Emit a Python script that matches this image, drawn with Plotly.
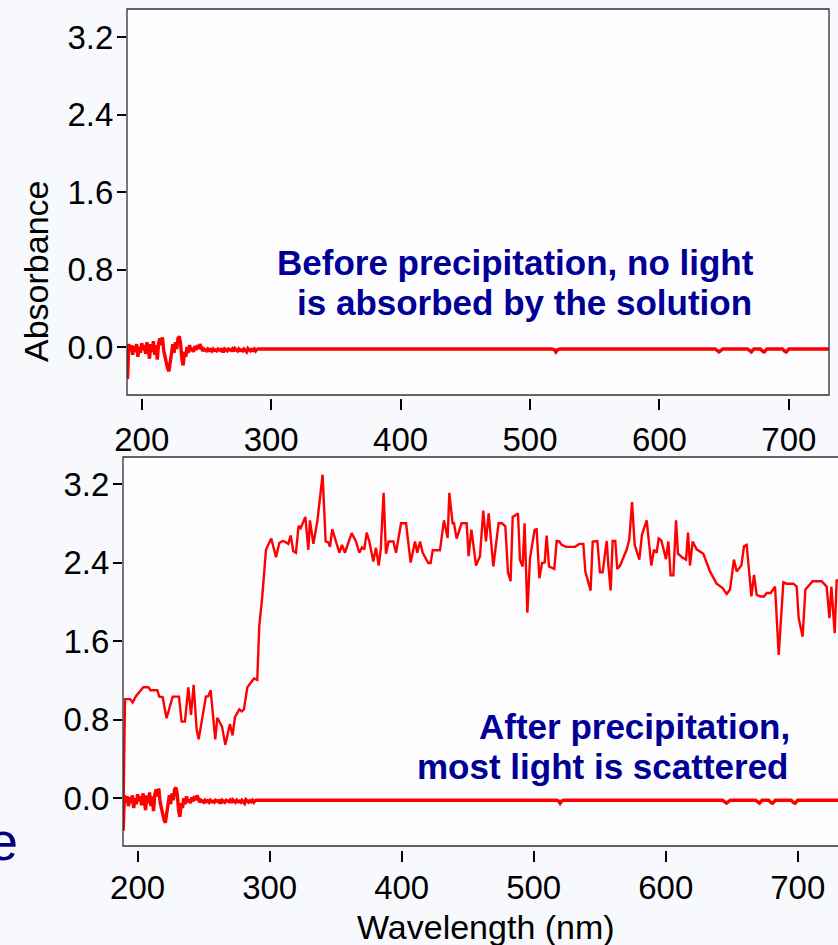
import plotly.graph_objects as go

W, H = 838, 945
FONT = "Liberation Sans, Arial, Helvetica, sans-serif"
NAVY = "#000096"

# ---- "before precipitation" spectrum -------------------------------------
# noisy UV end, sampled every 1 nm from 189 to 290 nm
uv_wl = list(range(189, 291))
uv_before = [
    -0.33, 0.03, -0.04, 0.02, -0.08, 0.01, -0.05, 0.03, -0.10, 0.00,
    -0.06, 0.04, -0.03, 0.02, -0.07, 0.05, -0.02, -0.12, 0.03, -0.05,
    0.06, -0.08, 0.02, -0.13, 0.04, 0.09, 0.02, 0.10, -0.04, -0.10,
    -0.18, -0.22, -0.25, -0.15, -0.04, 0.03, -0.06, 0.05, -0.02, 0.09,
    0.11, 0.04, -0.12, -0.19, -0.05, -0.10, 0.00, -0.06, 0.02, -0.04,
    -0.01, -0.05, 0.01, -0.03, 0.02, -0.02, 0.03, -0.01, -0.04, -0.02,
    -0.03, -0.04, -0.02, -0.035, -0.025, -0.04, -0.02, -0.035, -0.03, -0.04,
    -0.02, -0.03, -0.035, -0.015, -0.055, -0.02, -0.03, -0.04, -0.02, -0.03,
    -0.035, -0.02, -0.045, -0.015, -0.03, -0.04, -0.02, -0.035, -0.03, -0.04,
    -0.02, -0.035, -0.05, -0.015, -0.03, -0.04, -0.025, -0.035, -0.02, -0.04,
    -0.025, -0.02,
]
# flat visible part with a few tiny dips
vis_wl = [300, 517, 519, 520, 521, 523, 643, 645, 646, 647, 649,
          668, 670, 671, 673, 678, 680, 681, 683, 695, 697, 698, 700, 731]
vis_before = [-0.02, -0.02, -0.03, -0.05, -0.03, -0.02, -0.02, -0.04, -0.05, -0.04, -0.02,
              -0.02, -0.045, -0.05, -0.02, -0.02, -0.045, -0.05, -0.02, -0.02, -0.045, -0.05, -0.02, -0.02]

before_wl = uv_wl + vis_wl
before_abs = uv_before + vis_before

# ---- "after precipitation" spectrum (scattering) -------------------------
after_wl = [
    189.1, 190.4, 194.2, 196.2, 198.7, 204.3, 208.1, 209.8, 214.9, 216.4,
    218.9, 221.9, 226.5, 231.3, 233.3, 235.8, 238.4, 240.4, 242.4, 244.7,
    246.2, 248.5, 251.7, 253.5, 255.3, 258.8, 260.3, 263.9, 266.4, 269.9,
    271.9, 273.7, 277.0, 278.8, 280.5, 283.1, 288.1, 290.6, 292.1, 294.4,
    297.2, 301.2, 304.8, 307.3, 309.8, 311.8, 314.1, 315.9, 317.9, 319.9,
    321.9, 323.5, 327.0, 329.3, 330.5, 333.1, 336.1, 340.1, 342.4, 344.4,
    345.7, 347.4, 350.2, 352.8, 354.8, 357.0, 362.1, 365.4, 367.9, 369.9,
    371.7, 373.5, 375.5, 378.5, 380.5, 382.6, 384.1, 386.3, 388.1, 390.1,
    393.7, 395.7, 399.5, 403.3, 406.8, 410.1, 411.8, 413.9, 415.9, 420.2,
    421.9, 423.5, 429.0, 432.0, 434.8, 436.1, 438.6, 439.6, 441.6, 445.4,
    449.2, 450.7, 452.8, 456.3, 459.3, 461.8, 463.8, 465.9, 467.4, 469.4,
    473.4, 476.0, 478.5, 480.5, 482.5, 484.1, 488.1, 489.6, 491.6, 493.1,
    495.2, 497.2, 500.7, 502.2, 504.3, 506.3, 508.3, 509.8, 511.6, 515.6,
    517.4, 519.4, 521.2, 524.5, 531.3, 534.6, 537.6, 539.1, 543.1, 544.7,
    548.2, 550.2, 552.2, 555.3, 556.5, 558.3, 559.8, 561.8, 563.3, 565.4,
    570.4, 572.4, 574.5, 576.5, 580.0, 582.0, 585.6, 589.1, 591.1, 593.1,
    594.7, 596.7, 600.2, 602.0, 603.7, 605.8, 607.8, 609.3, 612.3, 615.4,
    616.9, 618.4, 620.4, 623.4, 628.5, 633.5, 638.6, 643.1, 646.2, 648.7,
    651.7, 653.7, 657.3, 659.3, 661.3, 664.9, 666.9, 668.9, 671.9, 674.5,
    676.5, 679.5, 682.8, 685.6, 689.1, 691.6, 696.7, 699.2, 700.7, 703.7,
    705.8, 711.3, 718.1, 721.9, 724.0, 725.5, 728.0, 729.5, 731.0,
]
after_abs = [
    -0.32, 1.01, 1.01, 0.975, 1.04, 1.13, 1.13, 1.10, 1.10, 1.035,
    1.03, 0.815, 1.035, 1.035, 0.78, 0.78, 1.13, 0.85, 1.155, 0.70,
    0.60, 0.80, 1.035, 1.04, 1.10, 0.60, 0.82, 0.73, 0.545, 0.755,
    0.64, 0.825, 0.905, 0.885, 0.905, 1.13, 1.22, 1.205, 1.75, 2.055,
    2.53, 2.645, 2.455, 2.60, 2.62, 2.61, 2.59, 2.675, 2.515, 2.50,
    2.775, 2.75, 2.865, 2.53, 2.83, 2.59, 2.82, 3.295, 2.615, 2.605,
    2.56, 2.74, 2.62, 2.50, 2.58, 2.50, 2.70, 2.615, 2.50, 2.555,
    2.535, 2.705, 2.615, 2.41, 2.55, 2.37, 2.53, 3.11, 2.49, 2.615,
    2.615, 2.50, 2.80, 2.80, 2.40, 2.615, 2.50, 2.615, 2.50, 2.395,
    2.395, 2.525, 2.525, 2.83, 2.65, 3.11, 2.80, 2.80, 2.645, 2.80,
    2.80, 2.465, 2.735, 2.37, 2.465, 2.93, 2.615, 2.90, 2.665, 2.36,
    2.80, 2.80, 2.77, 2.30, 2.21, 2.865, 2.90, 2.43, 2.36, 2.80,
    1.89, 2.445, 2.735, 2.74, 2.24, 2.395, 2.40, 2.675, 2.36, 2.335,
    2.62, 2.615, 2.58, 2.56, 2.56, 2.59, 2.59, 2.31, 2.115, 2.615,
    2.62, 2.30, 2.30, 2.62, 2.38, 2.115, 2.62, 2.62, 2.335, 2.37,
    2.53, 2.635, 3.015, 2.58, 2.43, 2.685, 2.83, 2.37, 2.53, 2.50,
    2.645, 2.625, 2.435, 2.615, 2.27, 2.27, 2.83, 2.49, 2.455, 2.43,
    2.705, 2.37, 2.615, 2.535, 2.49, 2.31, 2.185, 2.14, 2.08, 2.125,
    2.43, 2.31, 2.37, 2.565, 2.58, 2.055, 2.275, 2.07, 2.055, 2.055,
    2.09, 2.09, 2.155, 1.46, 2.20, 2.185, 2.185, 2.155, 1.835, 1.645,
    2.125, 2.21, 2.21, 2.155, 1.835, 2.155, 1.68, 2.225, 2.21,
]

x_ticks = [200, 300, 400, 500, 600, 700]
y_ticks = [0.0, 0.8, 1.6, 2.4, 3.2]
y_ticktext = ["0.0", "0.8", "1.6", "2.4", "3.2"]


def fx(p):
    return p / W


def fy(p):
    return 1 - p / H


fig = go.Figure()
red = "#FF0000"
fig.add_trace(go.Scatter(x=before_wl, y=before_abs, mode="lines",
                         line=dict(color=red, width=3.4), xaxis="x", yaxis="y",
                         showlegend=False, hoverinfo="skip"))
fig.add_trace(go.Scatter(x=after_wl, y=after_abs, mode="lines",
                         line=dict(color=red, width=2.4), xaxis="x2", yaxis="y2",
                         showlegend=False, hoverinfo="skip"))
fig.add_trace(go.Scatter(x=before_wl, y=before_abs, mode="lines",
                         line=dict(color=red, width=3.4), xaxis="x2", yaxis="y2",
                         showlegend=False, hoverinfo="skip"))

tickfont = dict(family=FONT, size=33, color="black")
xcommon = dict(tickvals=x_ticks, ticks="outside", ticklen=11, tickwidth=2,
               tickcolor="black", showgrid=False, zeroline=False, showline=False,
               tickfont=tickfont, anchor="free", automargin=False)
ycommon = dict(tickvals=y_ticks, ticktext=y_ticktext, ticks="outside", ticklen=9,
               tickwidth=2, tickcolor="black", showgrid=False, zeroline=False,
               showline=False, tickfont=tickfont, ticklabelstandoff=-3, automargin=False)

fig.update_layout(
    width=W, height=H,
    margin=dict(l=0, r=0, t=0, b=0),
    paper_bgcolor="#F8F9FD",
    plot_bgcolor="#FDFDFF",
    font=dict(family=FONT),
    xaxis=dict(domain=[fx(127), fx(829)], range=[188.6, 731.0],
               position=fy(398), ticklabelstandoff=1, **xcommon),
    yaxis=dict(domain=[fy(395), fy(9)], range=[-0.495, 3.49], anchor="x", **ycommon),
    xaxis2=dict(domain=[fx(123), 1.0], range=[188.9, 730.5],
                position=fy(850), ticklabelstandoff=-3, **xcommon),
    yaxis2=dict(domain=[fy(846), fy(457)], range=[-0.486, 3.475], anchor="x2", **ycommon),
    shapes=[
        dict(type="rect", xref="paper", yref="paper", x0=fx(127), x1=fx(829),
             y0=fy(395), y1=fy(9), line=dict(color="#303030", width=1.3),
             fillcolor="rgba(0,0,0,0)", layer="above"),
        dict(type="rect", xref="paper", yref="paper", x0=fx(123), x1=1.03,
             y0=fy(846), y1=fy(457), line=dict(color="#303030", width=1.3),
             fillcolor="rgba(0,0,0,0)", layer="above"),
    ],
    annotations=[
        dict(text="Absorbance", x=fx(36), y=fy(272), xref="paper", yref="paper",
             textangle=-90, showarrow=False, xanchor="center", yanchor="middle",
             font=dict(family=FONT, size=34, color="black")),
        dict(text="Wavelength (nm)", x=fx(486), y=fy(927), xref="paper", yref="paper",
             showarrow=False, xanchor="center", yanchor="middle",
             font=dict(family=FONT, size=34, color="black")),
        dict(text="<b>Before precipitation, no light</b>", x=fx(756), y=fy(262),
             xref="paper", yref="paper", showarrow=False, xanchor="right", yanchor="middle",
             font=dict(family=FONT, size=35, color=NAVY)),
        dict(text="<b>is absorbed by the solution</b>", x=fx(754), y=fy(302),
             xref="paper", yref="paper", showarrow=False, xanchor="right", yanchor="middle",
             font=dict(family=FONT, size=35, color=NAVY)),
        dict(text="<b>After precipitation,</b>", x=fx(792), y=fy(726),
             xref="paper", yref="paper", showarrow=False, xanchor="right", yanchor="middle",
             font=dict(family=FONT, size=35, color=NAVY)),
        dict(text="<b>most light is scattered</b>", x=fx(790), y=fy(766),
             xref="paper", yref="paper", showarrow=False, xanchor="right", yanchor="middle",
             font=dict(family=FONT, size=35, color=NAVY)),
        dict(text="e", x=fx(20), y=fy(841), xref="paper", yref="paper",
             showarrow=False, xanchor="right", yanchor="middle",
             font=dict(family=FONT, size=54, color="#000080")),
    ],
)

fig.write_html("out.html")
